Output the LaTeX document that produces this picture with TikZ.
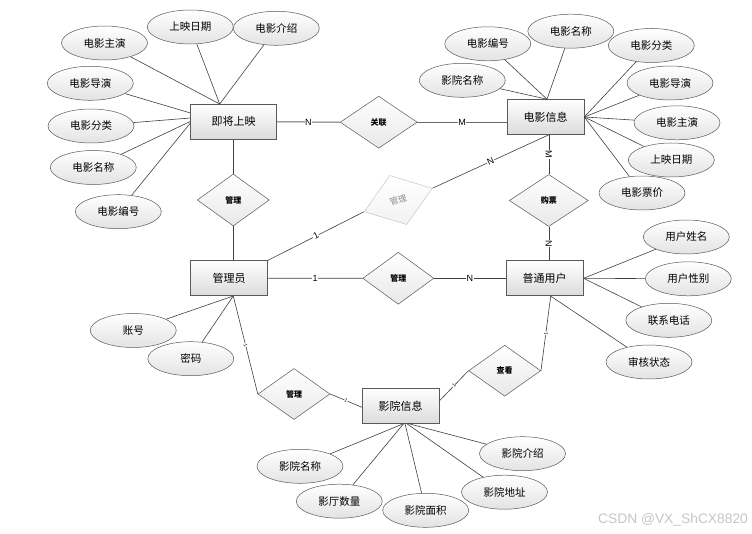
\documentclass[tikz,border=0pt]{standalone}
\usepackage{fontspec}
\setmainfont{Noto Sans CJK SC}
\newfontfamily\latinsans{Liberation Sans}
\usetikzlibrary{shapes.geometric,calc}
\begin{document}
\begin{tikzpicture}[x=1pt,y=-1pt,
  ent/.style={draw=gray!70!black, top color=white, bottom color=gray!28, minimum width=77pt, minimum height=35pt, inner sep=0pt, font=\fontsize{11}{11}\selectfont, line width=0.6pt},
  attr/.style={ellipse, draw=gray!70!black, top color=white, bottom color=gray!22, minimum width=86pt, minimum height=34pt, inner sep=0pt, font=\fontsize{10.5}{10.5}\selectfont, line width=0.5pt},
  rel/.style={diamond, draw=gray!70!black, top color=white, bottom color=gray!18, minimum width=74pt, minimum height=52pt, inner sep=0pt, font=\fontsize{8}{8}\selectfont\bfseries, line width=0.5pt},
  ln/.style={draw=black!75, line width=0.6pt},
  lnb/.style={draw=gray!85!black, line width=1pt},
  lbl/.style={fill=white, inner sep=0.6pt, font=\latinsans\fontsize{9}{9}\selectfont},
  tinylbl/.style={fill=white, inner sep=0.3pt, font=\latinsans\fontsize{5}{5}\selectfont, sloped}
]
\useasboundingbox (0,0) rectangle (752,534);
\fill[white] (0,0) rectangle (752,534);

% entities
\node[ent, minimum width=86pt] (jj) at (233.7,121.8) {即将上映};
\node[ent] (dy) at (545.5,117) {电影信息};
\node[ent] (gly) at (229,278.2) {管理员};
\node[ent] (pt) at (544.7,278.3) {普通用户};
\node[ent] (yy) at (400.7,405.8) {影院信息};

% relations
\node[rel, minimum width=77pt] (gl) at (378.7,122.2) {关联};
\node[rel, minimum width=72pt] (m1) at (233.3,200) {管理};
\node[rel, minimum width=79pt] (gp) at (548.8,200.5) {购票};
\node[rel, minimum width=71pt] (m2) at (398.3,278.3) {管理};
\node[rel, minimum width=72pt, minimum height=51pt] (m3) at (294,394) {管理};
\node[rel, minimum width=72pt, minimum height=51pt] (ck) at (504.7,370.7) {查看};
\node[rel, rotate=19, draw=gray!45, text=gray!90, bottom color=gray!10, font=\fontsize{8.5}{8.5}\selectfont, minimum width=72pt] (rd) at (398.2,200) {管理};

% attributes of 即将上映
\node[attr] (a1) at (104.5,43) {电影主演};
\node[attr] (a2) at (190.3,27) {上映日期};
\node[attr] (a3) at (276.3,28.3) {电影介绍};
\node[attr] (a4) at (90.3,83.3) {电影导演};
\node[attr] (a5) at (91,126) {电影分类};
\node[attr] (a6) at (93.3,167.5) {电影名称};
\node[attr] (a7) at (118.3,211.7) {电影编号};

% attributes of 电影信息
\node[attr] (b1) at (487.8,43.8) {电影编号};
\node[attr] (b2) at (570.8,31.2) {电影名称};
\node[attr] (b3) at (651.3,45.5) {电影分类};
\node[attr] (b4) at (462.3,80.3) {影院名称};
\node[attr] (b5) at (670,83) {电影导演};
\node[attr] (b6) at (677,122.8) {电影主演};
\node[attr] (b7) at (671.3,160) {上映日期};
\node[attr] (b8) at (642,193) {电影票价};

% attributes of 普通用户
\node[attr] (c1) at (686.3,237) {用户姓名};
\node[attr] (c2) at (688.3,278.8) {用户性别};
\node[attr] (c3) at (668.8,320.3) {联系电话};
\node[attr] (c4) at (649,362) {审核状态};

% attributes of 管理员
\node[attr] (d1) at (133.3,330.5) {账号};
\node[attr] (d2) at (190.8,358.7) {密码};

% attributes of 影院信息
\node[attr] (e1) at (300,466.3) {影院名称};
\node[attr] (e2) at (339.3,501.2) {影厅数量};
\node[attr] (e3) at (425.7,510.3) {影院面积};
\node[attr] (e4) at (504.5,492.2) {影院地址};
\node[attr] (e5) at (522.5,453.7) {影院介绍};

% relation connectors
\draw[lnb] (jj.east) -- node[lbl]{N} (gl.west);
\draw[lnb] (gl.east) -- node[lbl]{M} (gl.east -| dy.west);
\draw[ln] (m1.north) -- (m1.north |- jj.south);
\draw[ln] (m1.south) -- (m1.south |- gly.north);
\draw[ln] (gp.north) -- node[lbl, rotate=-90]{M} (gp.north |- dy.south);
\draw[ln] (gp.south) -- node[lbl, rotate=-90]{N} (gp.south |- pt.north);
\draw[ln] (gly.east) -- node[lbl]{1} (m2.west);
\draw[ln] (m2.east) -- node[lbl]{N} (m2.east -| pt.west);
\draw[ln] (gly.north east) -- node[lbl, sloped]{1} (rd.west);
\draw[ln] (rd.east) -- node[lbl, sloped]{N} (gp.north |- dy.south);
\draw[ln] ([xshift=4.3pt]gly.south) -- node[tinylbl]{1} (m3.west);
\draw[ln] (m3.east) -- node[tinylbl]{1} ([yshift=-1.5pt]yy.west);
\draw[ln] ([xshift=6pt]pt.south) -- node[tinylbl]{1} (ck.east);
\draw[ln] (ck.west) -- node[tinylbl]{1} ([yshift=5pt]yy.east);

% attribute connectors: 即将上映
\draw[ln] (a1) -- ([xshift=29.3pt]jj.north west);
\draw[ln] (a2) -- ([xshift=29.3pt]jj.north west);
\draw[ln] (a3) -- ([xshift=29.3pt]jj.north west);
\draw[ln] (a4) -- ([yshift=-9pt]jj.north west);
\draw[ln] (a5) -- ([yshift=-14pt]jj.north west);
\draw[ln] (a6) -- ([yshift=-17.4pt]jj.north west);
\draw[ln] (a7) -- ([yshift=-19pt]jj.north west);

% 电影信息
\draw[ln] (b1) -- ([xshift=1.5pt]dy.north);
\draw[ln] (b2) -- ([xshift=1.5pt]dy.north);
\draw[ln] (b4) -- ([xshift=1.5pt]dy.north);
\draw[ln] (b3) -- (dy.east);
\draw[ln] (b5) -- (dy.east);
\draw[ln] (b6) -- (dy.east);
\draw[ln] (b7) -- (dy.east);
\draw[ln] (b8) -- (dy.east);

% 普通用户
\draw[ln] (c1) -- (pt.east);
\draw[ln] (c2) -- (pt.east);
\draw[ln] (c3) -- (pt.east);
\draw[ln] (c4) -- ([xshift=6pt]pt.south);

% 管理员
\draw[ln] (d1) -- ([xshift=4.3pt]gly.south);
\draw[ln] (d2) -- ([xshift=4.3pt]gly.south);

% 影院信息
\draw[ln] (e1) -- ([xshift=3pt]yy.south);
\draw[ln] (e2) -- ([xshift=3pt]yy.south);
\draw[ln] (e3) -- ([xshift=4.3pt]yy.south);
\draw[ln] (e4) -- ([xshift=6pt]yy.south);
\draw[ln] (e5) -- ([xshift=7.6pt]yy.south);

% watermark
\node[text=gray!45, font=\latinsans\fontsize{13.8}{13.8}\selectfont, inner sep=0pt] (wm) at (673,520) {CSDN @VX\_ShCX8820};
\end{tikzpicture}
\end{document}
